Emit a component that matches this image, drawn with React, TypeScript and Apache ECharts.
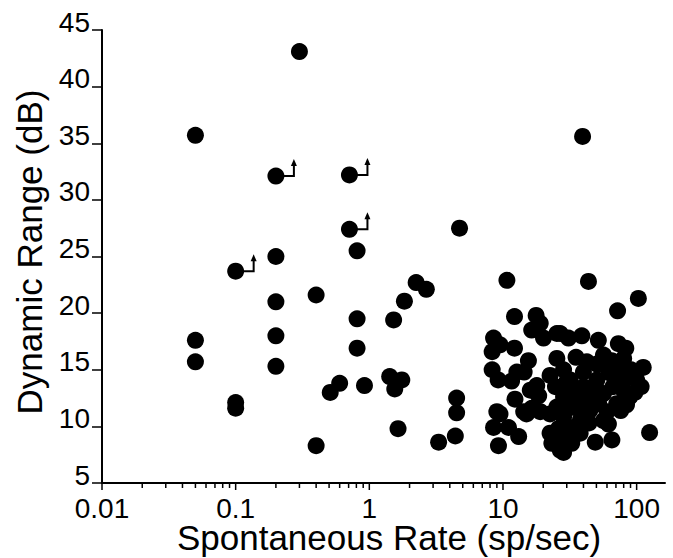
import React, { useEffect, useRef } from "react";
import * as echarts from "echarts";

// Spontaneous rate (sp/sec) vs dynamic range (dB)
const sparsePoints: [number, number][] = [
  [0.05, 35.7], [0.05, 17.6], [0.05, 15.7],
  [0.1, 12.1], [0.1, 11.6],
  [0.2, 25.0], [0.2, 21.0], [0.2, 18.0], [0.2, 15.3],
  [0.3, 43.1],
  [0.4, 21.6], [0.4, 8.3],
  [0.81, 25.5], [0.81, 19.5], [0.81, 16.9],
  [0.6, 13.8], [0.51, 13.0], [0.92, 13.6],
  [1.42, 14.4], [1.55, 13.3], [1.75, 14.1], [1.64, 9.8],
  [1.52, 19.4], [1.83, 21.05], [2.24, 22.7], [2.67, 22.1],
  [3.3, 8.6], [4.4, 9.15],
  [4.5, 12.5], [4.5, 11.2], [4.73, 27.5],
  [10.7, 22.9], [43.6, 22.8], [39.4, 35.6],
];

// points whose dynamic range is a lower bound (drawn with an up arrow)
const arrowPoints: [number, number][] = [
  [0.1, 23.7], [0.2, 32.1], [0.71, 32.2], [0.71, 27.4],
];

const clusterPoints: [number, number][] = [
  [103, 21.3], [72, 20.2], [12.2, 19.7], [17.7, 19.8], [19, 19.1],
  [16.4, 18.5], [20.1, 17.8], [25.3, 18.2], [30.9, 17.8], [38.9, 18.0],
  [51.7, 17.6], [73, 17.3], [83, 16.9], [8.5, 17.8], [9.5, 17.2],
  [12.2, 16.9], [8.3, 16.6], [15.5, 15.8], [25.3, 16.0], [35.2, 16.1],
  [56.5, 16.3], [65, 15.8], [80, 16.0], [112, 15.2], [8.3, 15.0],
  [12.7, 14.8], [14.4, 14.8], [9.2, 14.1], [11.6, 14.0], [22.5, 14.5],
  [28.4, 15.0], [31.8, 14.1], [40, 14.8], [50.4, 14.1], [63.4, 14.7],
  [79.7, 14.1], [100, 14.1], [108, 13.5], [17.9, 13.6], [12.3, 12.4],
  [16, 13.2], [18.5, 12.7], [14.3, 11.3], [16.4, 11.6], [19, 11.3],
  [9.5, 11.1], [8.5, 9.9], [11, 9.9], [13.1, 9.1], [9.25, 8.3],
  [22.5, 9.4], [23.2, 8.5], [28.4, 7.7], [32.7, 8.5], [37.8, 9.4],
  [49, 8.6], [61.5, 10.2], [65.3, 8.8], [125, 9.45], [22.5, 11.1],
  [28.4, 10.8], [31.8, 9.9], [28.4, 12.6], [35.5, 13.2], [34.7, 11.7],
  [42.4, 12.3], [44.6, 11.4], [56.5, 12.9], [66.5, 13.5], [79.7, 13.2],
  [88.6, 12.6], [71, 12.0], [60, 11.3], [25.3, 11.7], [24.7, 13.5],
  [29.8, 13.9], [40, 13.5], [47.5, 13.5], [50.4, 15.5], [42.4, 15.7],
  [60, 15.2], [73, 15.0], [91, 15.0], [56.5, 10.5], [34.7, 9.4],
  [28.4, 8.8], [76, 11.4], [97, 13.0], [84, 11.9], [26.8, 18.2],
  [15.0, 11.1], [9.0, 11.3], [26.8, 7.9], [36, 12.8], [32, 12.2],
  [45, 13.0], [52, 12.0], [38, 10.6], [30, 11.5], [44, 10.3], [26, 9.8],
];

const xMajorTicks = [0.01, 0.1, 1, 10, 100];
const xMinorTicks = [
  0.02, 0.03, 0.04, 0.05, 0.06, 0.07, 0.08, 0.09,
  0.2, 0.3, 0.4, 0.5, 0.6, 0.7, 0.8, 0.9,
  2, 3, 4, 5, 6, 7, 8, 9,
  20, 30, 40, 50, 60, 70, 80, 90,
];

const X_MIN = 0.01;
const X_MAX = 163;
const Y_MIN = 5;
const Y_MAX = 45;

const FONT = "'Liberation Sans', Arial, Helvetica, sans-serif";

export default function App() {
  const ref = useRef<HTMLDivElement>(null);

  useEffect(() => {
    if (!ref.current) return;
    const chart = echarts.init(ref.current, undefined, { renderer: "svg" });

    const tickData = [
      ...xMajorTicks.map((v) => [v, 1]),
      ...xMinorTicks.map((v) => [v, 0]),
    ];

    const fmtX = (v: number) => {
      const e = Math.log10(v);
      const r = Math.round(e);
      if (Math.abs(e - r) > 1e-6) return "";
      return r < 0 ? Math.pow(10, r).toFixed(-r) : String(Math.pow(10, r));
    };

    chart.setOption({
      animation: false,
      backgroundColor: "#ffffff",
      grid: { left: 102, top: 30, right: 8, bottom: 75, containLabel: false },
      xAxis: {
        type: "log",
        logBase: 10,
        min: X_MIN,
        max: X_MAX,
        axisLine: { show: true, lineStyle: { color: "#000", width: 2 } },
        axisTick: { show: false },
        splitLine: { show: false },
        minorTick: { show: false },
        axisLabel: {
          color: "#000",
          fontSize: 28,
          lineHeight: 22,
          fontFamily: FONT,
          margin: 14,
          formatter: fmtX,
          showMaxLabel: false,
        },
      },
      yAxis: {
        type: "value",
        min: Y_MIN,
        max: Y_MAX,
        interval: 5,
        axisLine: { show: true, onZero: false, lineStyle: { color: "#000", width: 2 } },
        axisTick: { show: true, inside: false, length: 10, lineStyle: { color: "#000", width: 1.5 } },
        splitLine: { show: false },
        axisLabel: {
          color: "#000",
          fontSize: 28,
          lineHeight: 16,
          fontFamily: FONT,
          margin: 12,
          verticalAlign: "bottom",
        },
      },
      graphic: [
        {
          type: "text",
          x: 389,
          y: 537,
          style: {
            text: "Spontaneous Rate (sp/sec)",
            fontSize: 35,
            lineHeight: 30,
            fontFamily: FONT,
            fill: "#000",
            align: "center",
            verticalAlign: "middle",
          },
        },
        {
          type: "text",
          x: 29,
          y: 252,
          rotation: Math.PI / 2,
          style: {
            text: "Dynamic Range (dB)",
            fontSize: 35,
            lineHeight: 30,
            fontFamily: FONT,
            fill: "#000",
            align: "center",
            verticalAlign: "middle",
          },
        },
      ],
      series: [
        {
          type: "custom",
          name: "xticks",
          clip: false,
          silent: true,
          z: 1,
          data: tickData,
          renderItem: (_params: any, api: any) => {
            const p = api.coord([api.value(0), Y_MIN]);
            const len = api.value(1) === 1 ? 7 : 5;
            return {
              type: "line",
              shape: { x1: p[0], y1: p[1], x2: p[0], y2: p[1] + len },
              style: { stroke: "#000", lineWidth: 1.5 },
            };
          },
        },
        {
          type: "custom",
          name: "arrows",
          clip: false,
          silent: true,
          z: 2,
          data: arrowPoints,
          renderItem: (_params: any, api: any) => {
            const p = api.coord([api.value(0), api.value(1)]);
            const cx = p[0];
            const cy = p[1];
            const ax = cx + 18;
            return {
              type: "group",
              children: [
                {
                  type: "polyline",
                  shape: { points: [[cx, cy], [ax, cy], [ax, cy - 11]] },
                  style: { stroke: "#000", lineWidth: 2, fill: null },
                },
                {
                  type: "polygon",
                  shape: { points: [[ax - 3, cy - 10], [ax + 3, cy - 10], [ax, cy - 17]] },
                  style: { fill: "#000" },
                },
              ],
            };
          },
        },
        {
          type: "scatter",
          name: "units",
          symbol: "circle",
          symbolSize: 17,
          z: 3,
          itemStyle: { color: "#000", opacity: 1 },
          data: [...sparsePoints, ...arrowPoints, ...clusterPoints],
        },
      ],
    });

    return () => {
      chart.dispose();
    };
  }, []);

  return (
    <div
      ref={ref}
      style={{ position: "absolute", left: 0, top: 0, width: 673, height: 558, background: "#fff" }}
    />
  );
}
